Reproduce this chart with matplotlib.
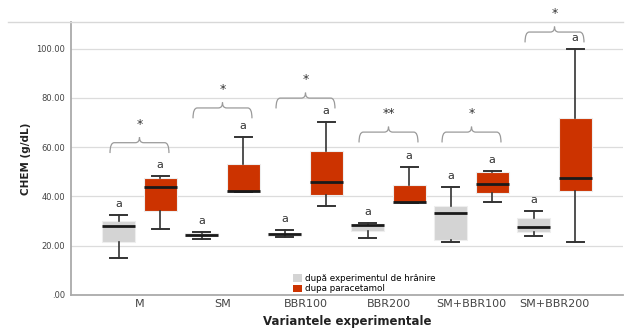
"""CHEM (g/dL) pe variante experimentale — boxplot dupa hranire / dupa paracetamol."""
import matplotlib
matplotlib.use("Agg")
import matplotlib.pyplot as plt
from matplotlib.patches import Patch, PathPatch
from matplotlib.path import Path
from matplotlib.lines import Line2D

categorii = ["M", "SM", "BBR100", "BBR200", "SM+BBR100", "SM+BBR200"]

# (min, Q1, mediana, Q3, max)
hranire = [
    (14.9, 21.6, 28.1, 30.1, 32.3),
    (22.6, 23.8, 24.4, 25.0, 25.6),
    (23.4, 23.9, 24.6, 25.2, 26.4),
    (23.3, 26.0, 28.5, 28.9, 29.2),
    (21.4, 22.3, 33.4, 36.2, 43.7),
    (23.9, 25.7, 27.7, 31.4, 34.1),
]
paracetamol = [
    (26.9, 33.9, 43.8, 47.3, 48.4),
    (41.9, 41.9, 42.2, 53.1, 64.2),
    (36.2, 40.6, 45.7, 58.6, 70.2),
    (37.4, 37.5, 37.9, 44.6, 52.1),
    (37.9, 41.4, 45.0, 49.9, 50.3),
    (21.6, 42.2, 47.3, 71.7, 99.9),
]
semnificatie = ["*", "*", "*", "**", "*", "*"]
nivel_acolada = [61.8, 75.9, 79.9, 66.1, 66.1, 106.7]
litere = ["a"] * 6

GRI = "#d4d4d4"
ROSU = "#cc3300"


def stats(vals):
    lo, q1, med, q3, hi = vals
    return dict(whislo=lo, q1=q1, med=med, q3=q3, whishi=hi, fliers=[])


def acolada(ax, x0, x1, y):
    xc = (x0 + x1) / 2
    dx, h, t = 0.05, 4.2, 2.2
    verts = [(x0, y - h), (x0, y), (x0 + dx, y),
             (xc - dx, y), (xc, y), (xc, y + t),
             (xc, y), (xc + dx, y),
             (x1 - dx, y), (x1, y), (x1, y - h)]
    codes = [Path.MOVETO, Path.CURVE3, Path.CURVE3,
             Path.LINETO, Path.CURVE3, Path.CURVE3,
             Path.CURVE3, Path.CURVE3,
             Path.LINETO, Path.CURVE3, Path.CURVE3]
    ax.add_patch(PathPatch(Path(verts, codes), fill=False, edgecolor="#9a9a9a", lw=0.9))


fig = plt.figure(figsize=(6.26, 3.32), dpi=100)
ax = fig.add_axes([71 / 626, 37 / 332, 552 / 626, 273.3 / 332])
ax.set_xlim(-0.825, 5.825)
ax.set_ylim(0, 110.9)

for y in [20, 40, 60, 80, 100]:
    ax.axhline(y, color="#dcdcdc", lw=0.9, zorder=0)

off, w = 0.25, 0.4
for i in range(len(categorii)):
    for vals, dxp, col in [(hranire[i], -off, GRI), (paracetamol[i], off, ROSU)]:
        ax.bxp([stats(vals)], positions=[i + dxp], widths=w, showfliers=False,
               patch_artist=True,
               boxprops=dict(facecolor=col, edgecolor="#eeeeee", lw=0.8),
               medianprops=dict(color="#1a1a1a", lw=2),
               whiskerprops=dict(color="#333333", lw=1.2),
               capprops=dict(color="#333333", lw=1.4),
               capwidths=w / 2)
        ax.text(i + dxp, vals[4] + 4.5, litere[i], ha="center", va="center",
                fontsize=8, color="#333333")
    acolada(ax, i - 0.355, i + 0.355, nivel_acolada[i])
    ax.text(i, nivel_acolada[i] + 7.5, semnificatie[i], ha="center", va="center",
            fontsize=9, color="#333333")

ax.set_xticks(range(len(categorii)))
ax.set_xticklabels(categorii, fontsize=8, color="#444444")
ax.set_yticks([0, 20, 40, 60, 80, 100])
ax.set_yticklabels([".00", "20.00", "40.00", "60.00", "80.00", "100.00"],
                   fontsize=6, color="#444444")
ax.tick_params(length=0, pad=4)
ax.tick_params(axis="x", pad=3)
for s in ["top", "right"]:
    ax.spines[s].set_visible(False)
for s in ["left", "bottom"]:
    ax.spines[s].set_color("#aaaaaa")
    ax.spines[s].set_linewidth(1.3)

fig.add_artist(Line2D([8 / 626, 623 / 626], [310.3 / 332, 310.3 / 332],
                      color="#d8d8d8", lw=1.0))

ax.set_ylabel("CHEM (g/dL)", fontsize=7.5, fontweight="bold", color="#222222", labelpad=4)
ax.set_xlabel("Variantele experimentale", fontsize=8.5, fontweight="bold",
              color="#222222", labelpad=4)

handles = [Patch(facecolor=GRI, edgecolor="none"), Patch(facecolor=ROSU, edgecolor="none")]
fig.legend(handles, ["după experimentul de hrânire", "dupa paracetamol"],
           loc="upper left", bbox_to_anchor=(287 / 626, 1 - 268 / 332),
           frameon=False, fontsize=6.3, handlelength=1.0, handleheight=1.0,
           handletextpad=0.4, labelspacing=0.15, borderpad=0.2)

fig.savefig("out.png", dpi=100)
